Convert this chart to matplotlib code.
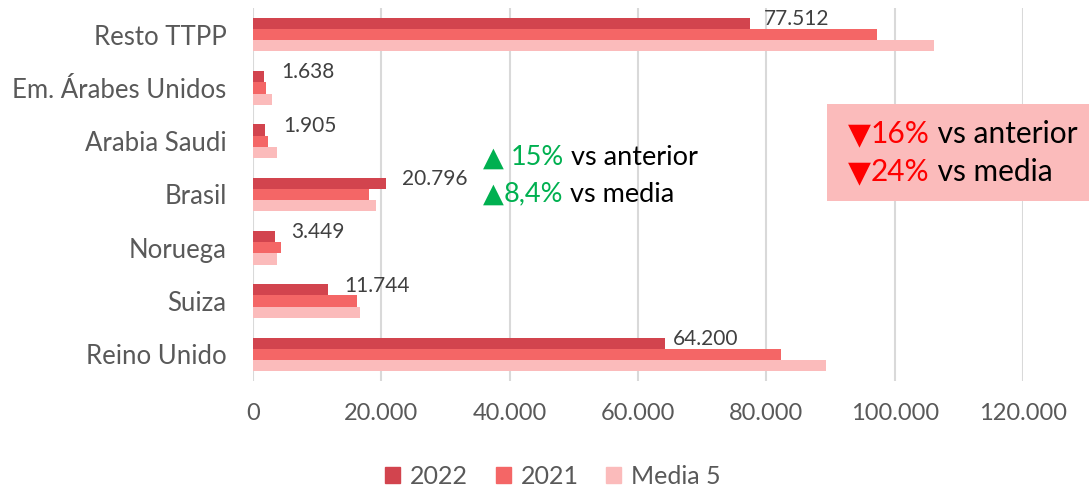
import numpy as np
import matplotlib.pyplot as plt
from matplotlib.offsetbox import TextArea, HPacker, VPacker, AnnotationBbox
from matplotlib.patches import Rectangle, Patch

plt.rcParams['font.family'] = ['Lato', 'DejaVu Sans']

# data (top to bottom as shown)
paises = ['Resto TTPP', 'Em. Árabes Unidos', 'Arabia Saudi', 'Brasil', 'Noruega', 'Suiza', 'Reino Unido']
v2022 = [77512, 1638, 1905, 20796, 3449, 11744, 64200]
v2021 = [97200, 2100, 2400, 18100, 4300, 16200, 82300]
media5 = [106200, 3000, 3700, 19200, 3800, 16700, 89300]
etiquetas = ['77.512', '1.638', '1.905', '20.796', '3.449', '11.744', '64.200']
xticks = [0, 20000, 40000, 60000, 80000, 100000, 120000]
xticklabels = ['0', '20.000', '40.000', '60.000', '80.000', '100.000', '120.000']

c2022 = '#D2444E'
c2021 = '#F46666'
cmedia = '#FBBBBB'
gris = '#595959'
verde = '#00B050'
rojo = '#FF0000'

fig = plt.figure(figsize=(10.89, 4.90), dpi=100)
ax = fig.add_axes([253 / 1089, 1 - 381 / 490, 770 / 1089, 373 / 490])

y = np.arange(len(paises))[::-1].astype(float)
h = 0.21
ax.barh(y + h, v2022, height=h, color=c2022, label='2022', zorder=3)
ax.barh(y, v2021, height=h, color=c2021, label='2021', zorder=3)
ax.barh(y - h, media5, height=h, color=cmedia, label='Media 5', zorder=3)

# data labels next to 2022 bars
offsets = [14, 18, 18, 16, 16, 16, 8]
for yi, v, lab, off in zip(y, v2022, etiquetas, offsets):
    ax.annotate(lab, (v, yi + h + 0.08), xytext=(off * 0.72, 0), textcoords='offset points',
                ha='left', va='center', fontsize=15, color='#404040')

ax.set_xlim(0, 120000)
ax.set_ylim(-0.5, len(paises) - 0.5)
ax.set_xticks(xticks)
ax.set_xticklabels(xticklabels)
ax.set_yticks(y)
ax.set_yticklabels(paises, fontsize=18.5)
ax.tick_params(axis='both', length=0, labelcolor=gris)
ax.tick_params(axis='x', labelsize=17, pad=16)
ax.tick_params(axis='y', pad=19)
ax.grid(axis='x', color='#D9D9D9', linewidth=1.5, zorder=0)
for s in ax.spines.values():
    s.set_visible(False)


def linea(partes, size):
    return HPacker(children=[TextArea(t, textprops=dict(color=c, fontsize=size)) for t, c in partes],
                   sep=0, pad=0, align='baseline')


# green annotation for Brasil
verde_box = VPacker(children=[
    linea([('▲ ', verde), ('15%', verde), (' vs anterior', 'black')], 19.5),
    linea([('▲', verde), ('8,4%', verde), (' vs media', 'black')], 19.5),
], sep=8, pad=0, align='left')
ab = AnnotationBbox(verde_box, (483 / 1089, 1 - 176 / 490), xycoords='figure fraction',
                    box_alignment=(0, 0.5), frameon=False)
fig.add_artist(ab)

# red summary box
fig.add_artist(Rectangle((827 / 1089, 1 - 201 / 490), 262 / 1089, 97 / 490,
                         transform=fig.transFigure, facecolor='#FBBBBB', edgecolor='none'))
rojo_box = VPacker(children=[
    linea([('▼', rojo), ('16%', rojo), (' vs anterior', 'black')], 21.5),
    linea([('▼', rojo), ('24%', rojo), (' vs media', 'black')], 21.5),
], sep=7, pad=0, align='left')
ab2 = AnnotationBbox(rojo_box, (848 / 1089, 1 - 153 / 490), xycoords='figure fraction',
                     box_alignment=(0, 0.5), frameon=False)
fig.add_artist(ab2)

handles = [Patch(color=c2022), Patch(color=c2021), Patch(color=cmedia)]
fig.legend(handles, ['2022', '2021', 'Media 5'], loc='center', bbox_to_anchor=(553 / 1089, 1 - 476 / 490),
           ncol=3, frameon=False, fontsize=18, labelcolor=gris, handlelength=0.6, handleheight=0.6,
           handletextpad=0.4, columnspacing=1.1)

fig.savefig('out.png', dpi=100)
